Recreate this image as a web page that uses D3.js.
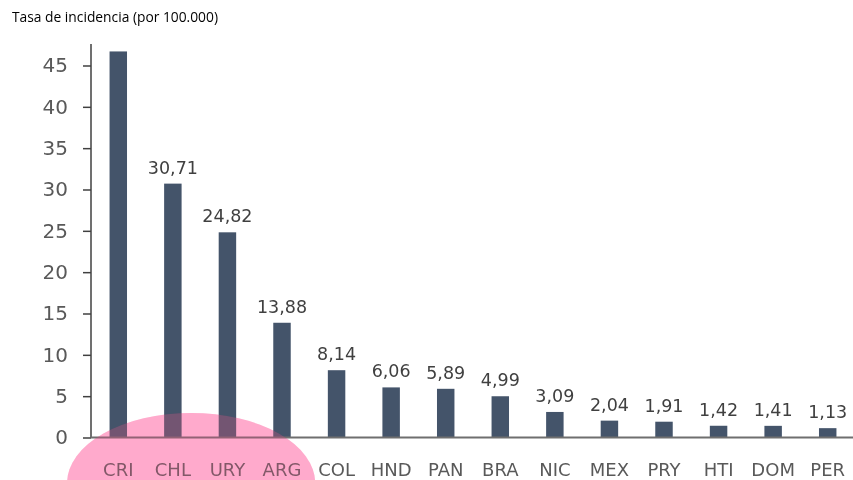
<!DOCTYPE html>
<html>
<head>
<meta charset="utf-8">
<script src="https://cdn.jsdelivr.net/npm/d3@7"></script>
<style>
  html, body { margin: 0; padding: 0; background: #fff; }
  svg { display: block; }
</style>
</head>
<body>
<svg id="chart" width="853" height="480"></svg>
<script>
// Incidence rate per 100,000 by country
const countries = ["CRI", "CHL", "URY", "ARG", "COL", "HND", "PAN", "BRA", "NIC", "MEX", "PRY", "HTI", "DOM", "PER"];
const rates = [46.7, 30.71, 24.82, 13.88, 8.14, 6.06, 5.89, 4.99, 3.09, 2.04, 1.91, 1.42, 1.41, 1.13];
const showValue = [false, true, true, true, true, true, true, true, true, true, true, true, true, true];
const yTicks = [0, 5, 10, 15, 20, 25, 30, 35, 40, 45];
const highlighted = ["CRI", "CHL", "URY", "ARG"];
const titleText = "Tasa de incidencia (por 100.000)";

const svg = d3.select("#chart");
const W = 853, H = 480;
const font = "'DejaVu Sans', Verdana, sans-serif";

const x = d3.scaleBand().domain(countries).range([91, 855]).paddingInner(0.68).paddingOuter(0.34);
const y = d3.scaleLinear().domain([0, 47.6]).range([437.5, 44]);

// title
svg.append("text")
  .attr("x", 12).attr("y", 22)
  .attr("font-family", "'Open Sans', sans-serif")
  .attr("font-size", 13.8)
  .attr("fill", "#000")
  .text(titleText);

// bars
svg.append("g").selectAll("rect")
  .data(countries)
  .join("rect")
  .attr("x", d => x(d))
  .attr("width", x.bandwidth())
  .attr("y", (d, i) => y(rates[i]))
  .attr("height", (d, i) => y(0) - y(rates[i]))
  .attr("fill", "#44546a");

// value labels
const fmt = v => d3.format(".2f")(v).replace(".", ",");
svg.append("g").selectAll("text")
  .data(countries.filter((d, i) => showValue[i]))
  .join("text")
  .attr("x", d => x(d) + x.bandwidth() / 2)
  .attr("y", d => y(rates[countries.indexOf(d)]) - 10)
  .attr("text-anchor", "middle")
  .attr("font-family", font)
  .attr("font-size", 17.5)
  .attr("fill", "#404040")
  .text(d => fmt(rates[countries.indexOf(d)]));

// y axis
const yAxis = d3.axisLeft(y).tickValues(yTicks).tickSize(8).tickPadding(15).tickFormat(d3.format("d"));
const gy = svg.append("g").attr("transform", "translate(91,0)").call(yAxis);
gy.select(".domain").remove();
gy.selectAll(".tick line").attr("stroke", "#404040").attr("stroke-width", 1.5);
gy.selectAll(".tick text")
  .attr("font-family", font)
  .attr("font-size", 20)
  .attr("fill", "#595959");
svg.append("line")
  .attr("x1", 91).attr("x2", 91)
  .attr("y1", y.range()[1]).attr("y2", y(0))
  .attr("stroke", "#404040").attr("stroke-width", 1.5);

// x axis baseline
svg.append("line")
  .attr("x1", 91).attr("x2", W)
  .attr("y1", y(0)).attr("y2", y(0))
  .attr("stroke", "#6f6f6f").attr("stroke-width", 2);

// category labels
const xAxis = d3.axisBottom(x).tickSize(0).tickPadding(0);
const gx = svg.append("g").attr("transform", `translate(0,${y(0)})`).call(xAxis);
gx.select(".domain").remove();
gx.selectAll(".tick text")
  .attr("dy", null)
  .attr("y", 38)
  .attr("font-family", font)
  .attr("font-size", 18)
  .attr("fill", "#595959");

// highlight around the leading group of countries
const first = x(highlighted[0]) + x.bandwidth() / 2;
const last = x(highlighted[highlighted.length - 1]) + x.bandwidth() / 2;
const hl = { cx: (first + last) / 2 - 9, cy: 483, rx: 124, ry: 70 };
svg.append("ellipse")
  .attr("cx", hl.cx).attr("cy", hl.cy).attr("rx", hl.rx).attr("ry", hl.ry)
  .attr("fill", "#ffaacc")
  .style("mix-blend-mode", "multiply");
svg.append("ellipse")
  .attr("cx", hl.cx).attr("cy", hl.cy).attr("rx", hl.rx).attr("ry", hl.ry)
  .attr("fill", "#ffaacc")
  .attr("fill-opacity", 0.25);
</script>
</body>
</html>
